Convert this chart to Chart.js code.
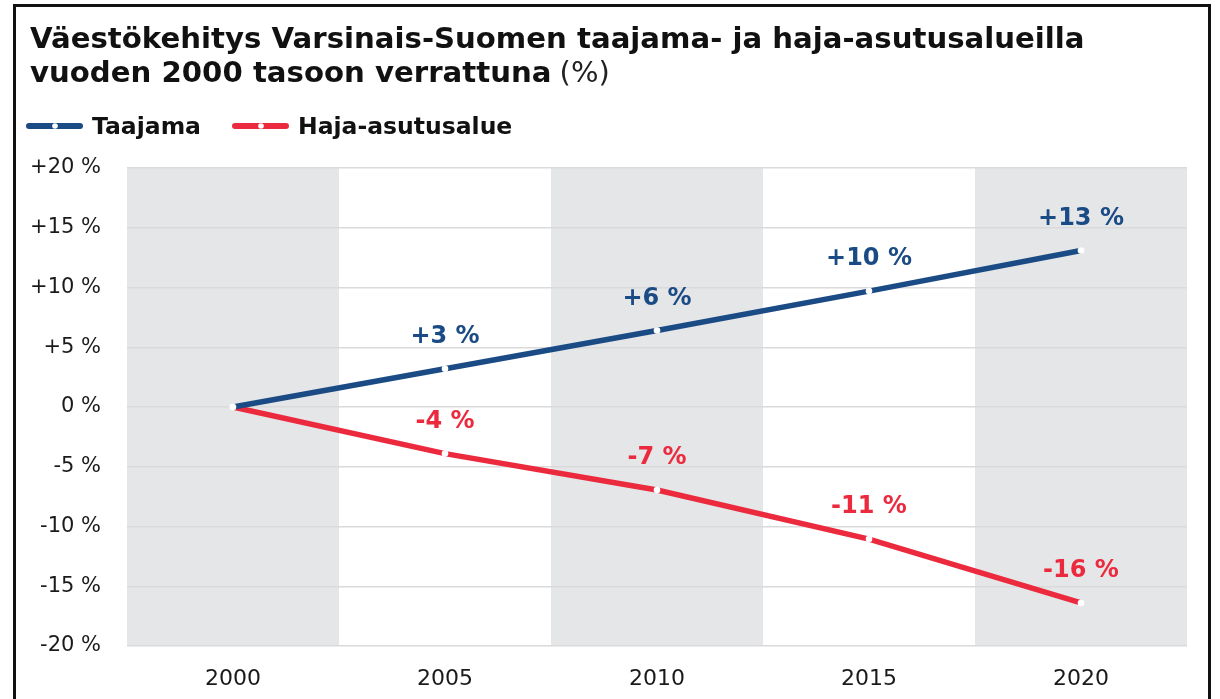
<!DOCTYPE html>
<html>
<head>
<meta charset="utf-8">
<script src="https://cdn.jsdelivr.net/npm/chart.js@4.4.1/dist/chart.umd.min.js"></script>
<style>
html,body{margin:0;padding:0;background:#fff;overflow:hidden}
#wrap{position:relative;width:1220px;height:699px}
#frame{position:absolute;left:13px;top:4px;width:1198px;height:760px;border:3px solid #111;box-sizing:border-box}
#c{position:absolute;left:0;top:0}
</style>
</head>
<body>
<div id="wrap">
<div id="frame"></div>
<canvas id="c" width="1220" height="699"></canvas>
</div>
<script>
// ---- data ----
const titleLine1 = 'Väestökehitys Varsinais-Suomen taajama- ja haja-asutusalueilla';
const titleLine2 = 'vuoden 2000 tasoon verrattuna';
const titleUnit = '(%)';
const years = ['2000', '2005', '2010', '2015', '2020'];
const seriesNames = ['Taajama', 'Haja-asutusalue'];
const taajama = [0, 3.2, 6.4, 9.7, 13.1];
const haja = [0, -3.9, -6.95, -11.05, -16.4];
const taajamaLabels = ['', '+3 %', '+6 %', '+10 %', '+13 %'];
const hajaLabels = ['', '-4 %', '-7 %', '-11 %', '-16 %'];
const yTickValues = [-20, -15, -10, -5, 0, 5, 10, 15, 20];
const yTickLabels = ['-20 %', '-15 %', '-10 %', '-5 %', '0 %', '+5 %', '+10 %', '+15 %', '+20 %'];

// ---- style ----
const BLUE = '#1b4b85';
const RED = '#ec2a3e';
const BAND = '#e5e6e8';
const GRID = '#dadada';
const TXT = '#1a1a1a';
const FONT = '"DejaVu Sans", sans-serif';

const bandsPlugin = {
  id: 'bands',
  beforeDraw(chart) {
    const {ctx, chartArea, scales} = chart;
    const xs = scales.x;
    const w = xs.getPixelForValue(1) - xs.getPixelForValue(0);
    ctx.save();
    ctx.fillStyle = BAND;
    for (let i = 0; i < years.length; i += 2) {
      const cx = xs.getPixelForValue(i);
      ctx.fillRect(cx - w / 2, chartArea.top, w, chartArea.bottom - chartArea.top);
    }
    ctx.restore();
  }
};

const valueLabelsPlugin = {
  id: 'valueLabels',
  afterDatasetsDraw(chart) {
    const {ctx} = chart;
    const sets = [taajamaLabels, hajaLabels];
    const cols = [BLUE, RED];
    ctx.save();
    ctx.font = 'bold 24px ' + FONT;
    ctx.textAlign = 'center';
    ctx.textBaseline = 'middle';
    chart.data.datasets.forEach((ds, di) => {
      const meta = chart.getDatasetMeta(di);
      meta.data.forEach((pt, i) => {
        const t = sets[di][i];
        if (!t) return;
        ctx.fillStyle = cols[di];
        ctx.fillText(t, pt.x, pt.y - 32);
      });
    });
    ctx.restore();
  }
};

const headerPlugin = {
  id: 'header',
  afterDraw(chart) {
    const {ctx} = chart;
    ctx.save();
    ctx.fillStyle = '#111';
    ctx.textAlign = 'left';
    ctx.textBaseline = 'alphabetic';
    ctx.font = 'bold 29.2px ' + FONT;
    ctx.fillText(titleLine1, 30, 48);
    ctx.fillText(titleLine2, 30, 82);
    const w2 = ctx.measureText(titleLine2 + ' ').width;
    ctx.font = '29px ' + FONT;
    ctx.fillStyle = '#222';
    ctx.fillText(titleUnit, 28 + w2, 82);
    // legend
    const items = [
      {x: 29, color: BLUE, name: seriesNames[0]},
      {x: 235, color: RED, name: seriesNames[1]}
    ];
    const ly = 126;
    items.forEach(it => {
      ctx.strokeStyle = it.color;
      ctx.lineWidth = 6;
      ctx.lineCap = 'round';
      ctx.beginPath();
      ctx.moveTo(it.x, ly);
      ctx.lineTo(it.x + 51, ly);
      ctx.stroke();
      ctx.fillStyle = '#fff';
      ctx.beginPath();
      ctx.arc(it.x + 26, ly, 2.8, 0, Math.PI * 2);
      ctx.fill();
      ctx.fillStyle = '#111';
      ctx.font = 'bold 23.5px ' + FONT;
      ctx.textBaseline = 'alphabetic';
      ctx.fillText(it.name, it.x + 63, 134);
    });
    ctx.restore();
  }
};

new Chart(document.getElementById('c'), {
  type: 'line',
  data: {
    labels: years,
    datasets: [
      {label: seriesNames[0], data: taajama, borderColor: BLUE, backgroundColor: BLUE,
       borderWidth: 5.5, tension: 0, pointRadius: 3.3, pointBackgroundColor: '#fff',
       pointBorderWidth: 0, pointBorderColor: '#fff', pointHoverRadius: 3.3},
      {label: seriesNames[1], data: haja, borderColor: RED, backgroundColor: RED,
       borderWidth: 5.5, tension: 0, pointRadius: 3.3, pointBackgroundColor: '#fff',
       pointBorderWidth: 0, pointBorderColor: '#fff', pointHoverRadius: 3.3}
    ]
  },
  options: {
    responsive: false,
    animation: false,
    events: [],
    layout: {padding: {top: 168, right: 33, bottom: 0, left: 0}},
    plugins: {legend: {display: false}, title: {display: false}, tooltip: {enabled: false}},
    scales: {
      x: {
        offset: true,
        grid: {display: false, drawTicks: false},
        border: {display: false},
        ticks: {color: TXT, font: {family: FONT, size: 22}, padding: 20, maxRotation: 0},
        afterFit(s) { s.height = 53; }
      },
      y: {
        min: -20, max: 20,
        afterBuildTicks(s) { s.ticks = yTickValues.map(v => ({value: v})); },
        grid: {color: GRID, lineWidth: 1.5, drawTicks: false},
        border: {display: false},
        ticks: {
          color: TXT, font: {family: FONT, size: 21}, padding: 26,
          callback(v) { return yTickLabels[yTickValues.indexOf(v)]; }
        },
        afterFit(s) { s.width = 127; }
      }
    }
  },
  plugins: [bandsPlugin, valueLabelsPlugin, headerPlugin]
});
</script>
</body>
</html>
